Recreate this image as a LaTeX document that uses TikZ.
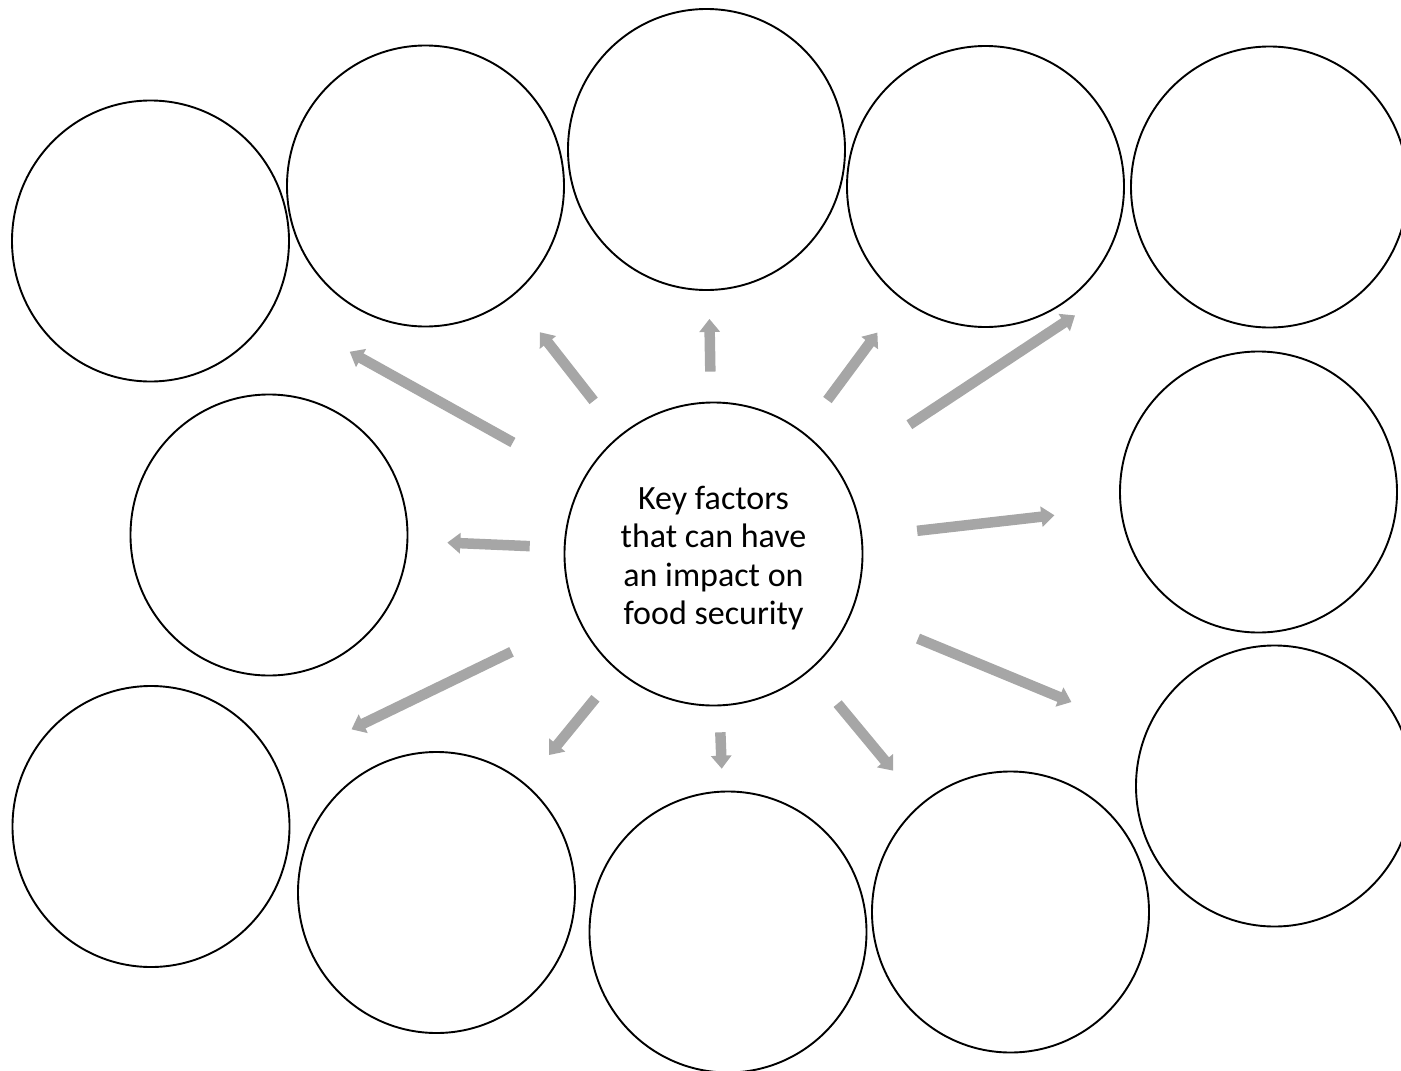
\documentclass[tikz,border=0pt]{standalone}
\usepackage{fontspec}
\setmainfont{Carlito}
\usepackage{tikz}
\usetikzlibrary{arrows.meta,shapes.geometric}
\definecolor{spokegray}{RGB}{166,166,166}
\tikzset{
	factor/.style={draw, ellipse, line width=1.9pt, minimum width=277pt, minimum height=281pt, inner sep=0pt},
	hub/.style={draw, ellipse, line width=1.9pt, minimum width=298pt, minimum height=303pt, inner sep=0pt},
	hubtext/.style={align=center, font=\fontsize{34}{38.5}\selectfont, yshift=-4pt},
	spoke/.style={draw=spokegray, line width=10.5pt, -{Triangle[width=20pt,length=13pt]}}
}

\begin{document}
\begin{tikzpicture}[x=1pt, y=-1pt]
				\clip (0,0) rectangle (1401,1071);
				\node[hub, label={[hubtext, name=Htext]center:Key factors\\that can have\\an impact on\\food security}] (H) at (713.5,554) {};
				\node[factor] (F1) at (150.5,241) {};
				\node[factor] (F2) at (425.5,186) {};
				\node[factor] (F3) at (706.5,149.5) {};
				\node[factor] (F4) at (985.5,186.5) {};
				\node[factor] (F5) at (1269.5,187) {};
				\node[factor] (F6) at (269,535) {};
				\node[factor] (F7) at (1258.5,492) {};
				\node[factor] (F8) at (151,826.5) {};
				\node[factor] (F9) at (436.5,892.5) {};
				\node[factor] (F10) at (728,932) {};
				\node[factor] (F11) at (1010.5,912) {};
				\node[factor] (F12) at (1274.5,786) {};
				% spokes: target / gap at hub / gap at factor
				\foreach \f/\a/\b in {F1/79/88, F2/43/45, F3/30/28, F4/40/41, F5/84/93, F6/34/39,
					F7/55/66, F8/74/83, F9/35/37, F10/26/22, F11/43/43, F12/71/80}
					\draw[spoke, shorten <=\a pt, shorten >=\b pt] (H) -- (\f);
			\end{tikzpicture}
\end{document}
